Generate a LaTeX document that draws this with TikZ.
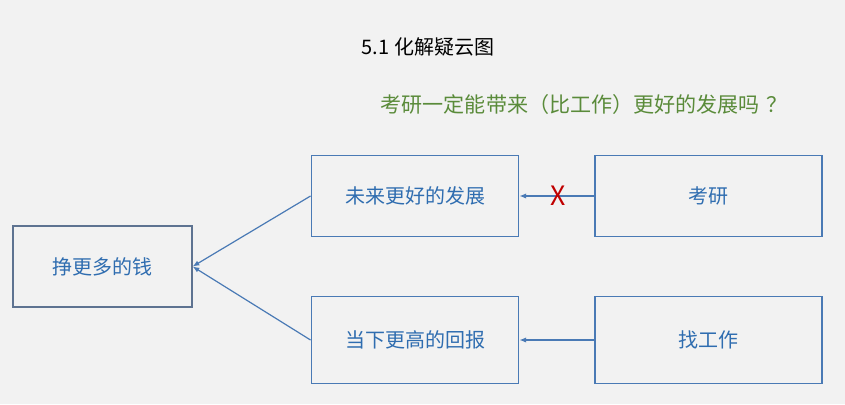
\documentclass[tikz,border=0pt]{standalone}
\usepackage{fontspec}
\usepackage{tikz}
\usetikzlibrary{positioning,arrows.meta}
\newfontfamily\cjk{Noto Sans CJK SC}
\definecolor{bgcol}{HTML}{F2F2F2}
\definecolor{boxline}{HTML}{4A7AB5}
\definecolor{goalline}{HTML}{5E7391}
\definecolor{boxtext}{HTML}{2F6DB0}
\definecolor{question}{HTML}{5A8B3A}
\definecolor{crossred}{HTML}{C00000}

\begin{document}
\begin{tikzpicture}[x=0.75pt, y=-0.75pt,
        cloudbox/.style={rectangle, draw=boxline, line width=1.2pt,
        text=boxtext, font=\cjk\fontsize{15}{18}\selectfont,
        minimum height=61pt, inner sep=0pt},
        goalbox/.style={cloudbox, draw=goalline},
        needlink/.style={-{Latex[length=5pt,width=4pt]}, boxline, line width=0.9pt},
      ]
      \path[use as bounding box, fill=bgcol] (0,0) rectangle (845,404);

      % Title and question
      \node[font=\cjk\fontsize{15}{18}\selectfont] (title) at (428,47) {5.1 化解疑云图};
      \node[font=\cjk\fontsize{15.8}{18}\selectfont, text=question] (quest) at (584,104)
      {考研一定能带来（比工作）更好的发展吗\hspace{0.3em}？};

      % Common goal (left)
      \node[goalbox, minimum width=134pt] (goal) at (102.5,266.5) {挣更多的钱};

      % Needs (middle)
      \node[cloudbox, minimum width=155.5pt] (future) at (415,196) {未来更好的发展};
      \node[cloudbox, minimum width=155.5pt, minimum height=65.5pt] (now) at (415,340)
      {当下更高的回报};

      % Actions (right)
      \node[cloudbox, minimum width=170pt] (exam) at (708.5,196) {考研};
      \node[cloudbox, minimum width=170pt, minimum height=65.5pt] (job) at (708.5,340)
      {找工作};

      % Links
      \draw[needlink] (future.west) -- (goal.east);
      \draw[needlink] (now.west) -- (goal.east);
      \draw[needlink] (exam.west) -- node[text=crossred, font=\cjk\fontsize{20}{20}\selectfont,
      pos=0.48] (cross) {X} (future.east);
      \draw[needlink] (job.west) -- (now.east);
    \end{tikzpicture}
\end{document}
